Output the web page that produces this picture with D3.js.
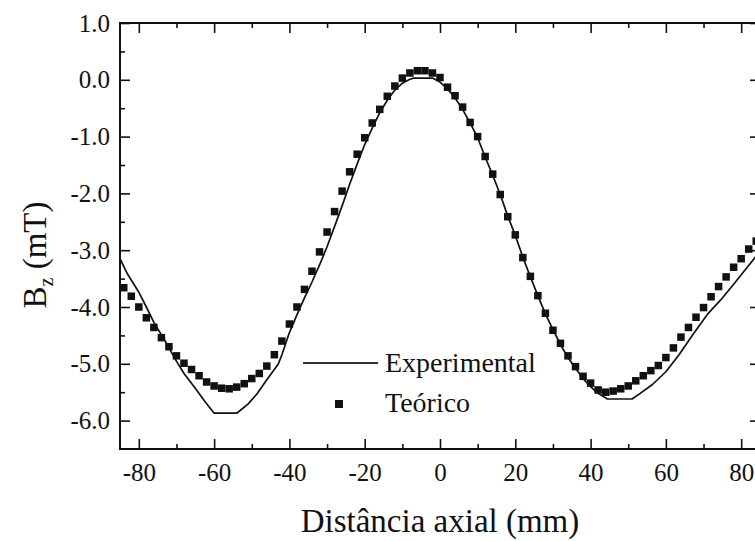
<!DOCTYPE html>
<html>
<head>
<meta charset="utf-8">
<script src="https://cdn.jsdelivr.net/npm/d3@7"></script>
<style>
  body { margin: 0; background: #fff; }
  svg { display: block; }
  text { font-family: "Liberation Serif", "Times New Roman", serif; fill: #111; }
</style>
</head>
<body>
<svg id="chart" width="755" height="541"></svg>
<script>
// Axial field profile: measured (line) vs. theoretical (squares)
const theoX = [-84,-82,-80,-78,-76,-74,-72,-70,-68,-66,-64,-62,-60,-58,-56,-54,-52,-50,-48,-46,
  -44,-42,-40,-38,-36,-34,-32,-30,-28,-26,-24,-22,-20,-18,-16,-14,-12,-10,-8,-6,-4,-2,
  0,2,4,6,8,10,12,14,16,18,20,22,24,26,28,30,32,34,36,38,40,42,44,46,48,50,52,54,56,58,
  60,62,64,66,68,70,72,74,76,78,80,82,84];
const theoB = [-3.66,-3.81,-4.00,-4.19,-4.36,-4.54,-4.70,-4.86,-4.99,-5.10,-5.21,-5.32,-5.39,-5.43,-5.44,-5.41,-5.35,-5.26,-5.17,-5.04,
  -4.84,-4.60,-4.30,-4.00,-3.69,-3.37,-3.03,-2.68,-2.32,-1.96,-1.62,-1.31,-1.02,-0.76,-0.52,-0.29,-0.11,0.03,0.12,0.16,0.16,0.12,
  0.04,-0.13,-0.28,-0.48,-0.75,-1.00,-1.35,-1.66,-2.02,-2.41,-2.73,-3.13,-3.46,-3.80,-4.11,-4.41,-4.64,-4.86,-5.05,-5.22,-5.34,-5.46,-5.50,-5.48,-5.44,-5.39,-5.30,-5.21,-5.12,-5.03,
  -4.89,-4.72,-4.53,-4.36,-4.18,-4.01,-3.82,-3.64,-3.47,-3.30,-3.15,-2.98,-2.84];

const expX = [-85,-83,-80,-78,-76,-73,-70.5,-68,-65,-62.5,-60,-54,-51,-48.5,-46,-43,-42,-40,-38,-36,-34,-32,-30,
  -28,-26,-24,-22,-20,-18,-16,-14,-12,-10,-8,-7,-2,0,2,4,6,8,10,12,14,16,18,20,22,24,26,28,30,32,34,36,38,40,42,
  44.5,51,53,56.5,60,63.5,67,71,74.5,78,81.5,85];
const expB = [-3.15,-3.42,-3.74,-4.00,-4.27,-4.60,-4.90,-5.17,-5.43,-5.66,-5.87,-5.87,-5.71,-5.52,-5.28,-5.01,-4.84,-4.45,-4.14,-3.84,-3.56,-3.26,-2.94,
  -2.58,-2.22,-1.84,-1.48,-1.14,-0.85,-0.58,-0.36,-0.18,-0.06,0.01,0.03,0.03,-0.04,-0.16,-0.32,-0.52,-0.76,-1.02,-1.36,-1.68,-2.02,-2.40,-2.74,-3.12,-3.47,-3.80,-4.12,-4.40,-4.66,-4.89,-5.08,-5.26,-5.40,-5.52,
  -5.62,-5.62,-5.53,-5.36,-5.14,-4.84,-4.50,-4.13,-3.88,-3.60,-3.31,-3.02];

const xMajor = [-80,-60,-40,-20,0,20,40,60,80];
const xMinor = [-70,-50,-30,-10,10,30,50,70];
const yMajor = [1.0,0.0,-1.0,-2.0,-3.0,-4.0,-5.0,-6.0];
const yMinor = [0.5,-0.5,-1.5,-2.5,-3.5,-4.5,-5.5];

const legendLabels = ["Experimental", "Teórico"];
const xTitle = "Distância axial (mm)";

const svg = d3.select("#chart");
const box = { left: 120, right: 760, top: 23, bottom: 449 };

const x = d3.scaleLinear().domain([-85, 85]).range([box.left, box.right]);
const y = d3.scaleLinear().domain([-6.5, 1.0]).range([box.bottom, box.top]);

const ink = "#111";
const plot = svg.append("g");

// clip to the frame
svg.append("clipPath").attr("id", "clip")
  .append("rect").attr("x", box.left).attr("y", box.top)
  .attr("width", box.right - box.left).attr("height", box.bottom - box.top);

// measured curve
plot.append("path")
  .datum(expX.map((d, i) => [d, expB[i]]))
  .attr("clip-path", "url(#clip)")
  .attr("fill", "none")
  .attr("stroke", ink)
  .attr("stroke-width", 1.7)
  .attr("stroke-linejoin", "round")
  .attr("d", d3.line().x(d => x(d[0])).y(d => y(d[1])));

// theoretical points
const sq = 7.5;
plot.append("g").attr("clip-path", "url(#clip)")
  .selectAll("rect").data(theoX.map((d, i) => [d, theoB[i]])).join("rect")
  .attr("x", d => x(d[0]) - sq / 2)
  .attr("y", d => y(d[1]) - sq / 2)
  .attr("width", sq).attr("height", sq)
  .attr("fill", ink);

// axes with inward ticks
function styleAxis(g) {
  g.select(".domain").remove();
  g.selectAll("line").attr("stroke", ink).attr("stroke-width", 1.6);
  g.selectAll("text").style("font-size", "25px").attr("fill", ink);
}
const noLabel = () => "";

svg.append("g").attr("transform", `translate(0,${box.bottom})`)
  .call(d3.axisBottom(x).tickValues(xMajor).tickSizeInner(-10).tickSizeOuter(0).tickPadding(14).tickFormat(d => String(d)))
  .call(styleAxis);
svg.append("g").attr("transform", `translate(0,${box.bottom})`)
  .call(d3.axisBottom(x).tickValues(xMinor).tickSizeInner(-5).tickSizeOuter(0).tickFormat(noLabel))
  .call(styleAxis);
svg.append("g").attr("transform", `translate(0,${box.top})`)
  .call(d3.axisTop(x).tickValues(xMajor).tickSizeInner(-10).tickSizeOuter(0).tickFormat(noLabel))
  .call(styleAxis);
svg.append("g").attr("transform", `translate(0,${box.top})`)
  .call(d3.axisTop(x).tickValues(xMinor).tickSizeInner(-5).tickSizeOuter(0).tickFormat(noLabel))
  .call(styleAxis);

svg.append("g").attr("transform", `translate(${box.left},0)`)
  .call(d3.axisLeft(y).tickValues(yMajor).tickSizeInner(-10).tickSizeOuter(0).tickPadding(10).tickFormat(d => d.toFixed(1)))
  .call(styleAxis);
svg.append("g").attr("transform", `translate(${box.left},0)`)
  .call(d3.axisLeft(y).tickValues(yMinor).tickSizeInner(-5).tickSizeOuter(0).tickFormat(noLabel))
  .call(styleAxis);
svg.append("g").attr("transform", `translate(${box.right},0)`)
  .call(d3.axisRight(y).tickValues(yMajor).tickSizeInner(-10).tickSizeOuter(0).tickFormat(noLabel))
  .call(styleAxis);
svg.append("g").attr("transform", `translate(${box.right},0)`)
  .call(d3.axisRight(y).tickValues(yMinor).tickSizeInner(-5).tickSizeOuter(0).tickFormat(noLabel))
  .call(styleAxis);

// frame
svg.append("rect")
  .attr("x", box.left).attr("y", box.top)
  .attr("width", box.right - box.left).attr("height", box.bottom - box.top)
  .attr("fill", "none").attr("stroke", ink).attr("stroke-width", 2);

// legend
const lg = svg.append("g");
lg.append("line").attr("x1", 303).attr("x2", 378).attr("y1", 363).attr("y2", 363)
  .attr("stroke", "#333").attr("stroke-width", 2.2);
lg.append("rect").attr("x", 335).attr("y", 400).attr("width", 8).attr("height", 8).attr("fill", ink);
lg.selectAll("text").data(legendLabels).join("text")
  .attr("x", 385).attr("y", (d, i) => 372 + i * 40)
  .style("font-size", "28px")
  .text(d => d);

// axis titles
svg.append("text")
  .attr("x", 440).attr("y", 532)
  .attr("text-anchor", "middle")
  .style("font-size", "33px")
  .text(xTitle);

const yt = svg.append("text")
  .attr("transform", "translate(46,255) rotate(-90)")
  .attr("text-anchor", "middle")
  .style("font-size", "33px");
yt.append("tspan").text("B");
yt.append("tspan").attr("dy", 7).style("font-size", "20px").text("z");
yt.append("tspan").attr("dy", -7).text(" (mT)");
</script>
</body>
</html>
